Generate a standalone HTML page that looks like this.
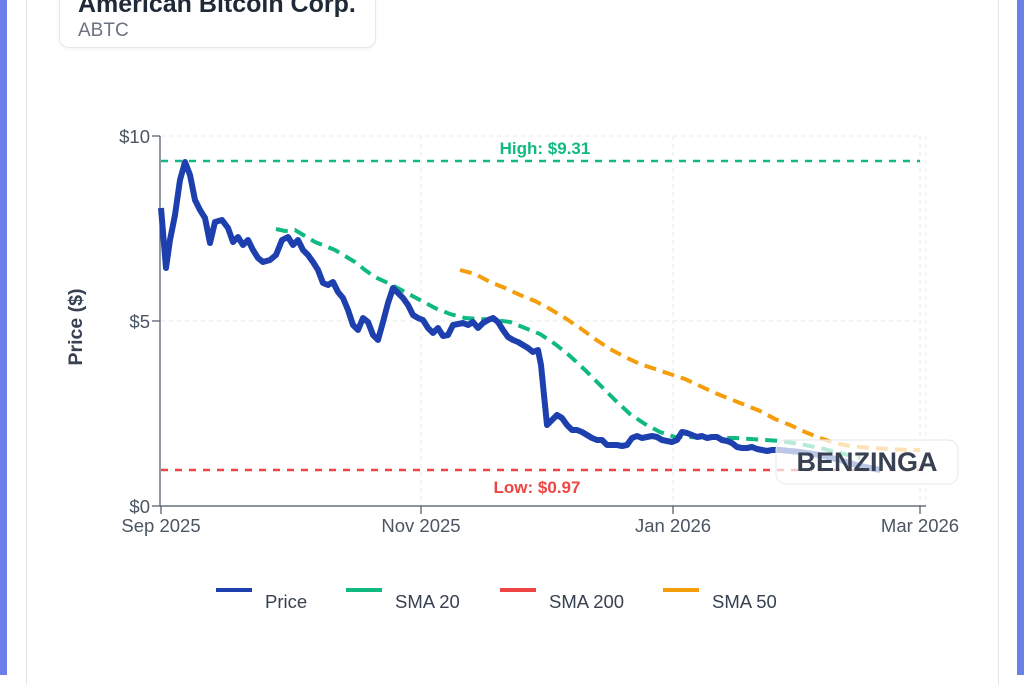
<!DOCTYPE html>
<html><head><meta charset="utf-8"><style>
body{margin:0;width:1024px;height:675px;overflow:hidden;background:#fff;font-family:"Liberation Sans",sans-serif;position:relative}
.sl{position:absolute;top:0;bottom:0;width:7px;background:#6b80e8}
.card{position:absolute;left:26px;right:25px;top:-10px;bottom:-10px;border-left:1px solid #e3e5ea;border-right:1px solid #e3e5ea}
.tb{position:absolute;left:59px;top:-20px;width:315px;height:66px;border:1px solid #e5e7eb;border-radius:10px;box-shadow:0 1px 3px rgba(0,0,0,.06)}
.t1{position:absolute;left:78px;top:-10px;font-weight:bold;font-size:25px;color:#1f2937}
.t2{position:absolute;left:78px;top:20px;font-size:19px;color:#6b7280}
</style></head><body>
<div class="sl" style="left:0"></div><div class="sl" style="right:0"></div>
<div class="card"></div>
<div class="tb"></div>
<div class="t1">American Bitcoin Corp.</div>
<div class="t2">ABTC</div>
<svg width="1024" height="675" style="position:absolute;left:0;top:0" font-family="Liberation Sans, sans-serif">
<g stroke="#e5e7eb" stroke-dasharray="4,4" fill="none">
<line x1="161" y1="136" x2="920" y2="136"/><line x1="161" y1="321" x2="920" y2="321"/>
<line x1="421" y1="136" x2="421" y2="506"/><line x1="673" y1="136" x2="673" y2="506"/><line x1="920" y1="136" x2="920" y2="506"/><line x1="926" y1="136" x2="926" y2="506"/>
</g>
<g stroke="#4b5563" stroke-width="1.2">
<line x1="160" y1="136" x2="160" y2="506"/><line x1="160" y1="506" x2="926" y2="506"/>
<line x1="152" y1="136" x2="160" y2="136"/><line x1="152" y1="321" x2="160" y2="321"/><line x1="152" y1="506" x2="160" y2="506"/>
<line x1="161" y1="506" x2="161" y2="514"/><line x1="421" y1="506" x2="421" y2="514"/><line x1="673" y1="506" x2="673" y2="514"/><line x1="920" y1="506" x2="920" y2="514"/>
</g>
<g fill="#4b5563" font-size="18.5">
<text x="150" y="143" text-anchor="end">$10</text><text x="150" y="328" text-anchor="end">$5</text><text x="150" y="513" text-anchor="end">$0</text>
<text x="161" y="532" text-anchor="middle">Sep 2025</text><text x="421" y="532" text-anchor="middle">Nov 2025</text><text x="673" y="532" text-anchor="middle">Jan 2026</text><text x="920" y="532" text-anchor="middle">Mar 2026</text>
</g>
<text transform="translate(82,327) rotate(-90)" text-anchor="middle" font-size="19.5" font-weight="bold" fill="#374151">Price ($)</text>
<line x1="161" y1="161" x2="920" y2="161" stroke="#10b981" stroke-width="2.5" stroke-dasharray="7,7"/>
<text x="545" y="154" text-anchor="middle" font-size="17" font-weight="bold" fill="#10b981">High: $9.31</text>
<line x1="161" y1="470" x2="920" y2="470" stroke="#ef4444" stroke-width="2.5" stroke-dasharray="7,7"/>
<text x="537" y="493" text-anchor="middle" font-size="17" font-weight="bold" fill="#ef4444">Low: $0.97</text>
<polyline fill="none" stroke="#f59e0b" stroke-width="4" stroke-dasharray="12,7" points="460,270 475,274 490,282 505,288 520,295 535,301 550,309 565,318 580,328 595,339 610,349 625,357 640,364 655,369 670,374 685,379 700,386 715,393 730,399 745,405 760,411 775,419 790,425 805,432 820,438 835,443 850,446 870,448 890,449 910,450 920,450"/>
<polyline fill="none" stroke="#10b981" stroke-width="4" stroke-dasharray="12,7" points="276,229 285,231 295,230 305,236 315,242 325,246 335,250 345,256 355,262 365,270 375,277 390,284 405,292 420,300 435,308 450,314 465,318 480,319 495,320 510,322 525,328 540,334 555,344 570,356 585,370 600,385 615,400 630,414 645,424 660,432 675,437 690,437 705,438 720,438 735,438 750,439 765,440 780,441 800,444 820,448 840,453 860,458"/>
<polyline fill="none" stroke="#1e40af" stroke-width="6" stroke-linejoin="round" points="161,208 166,268 170,240 175,215 180,180 185,162 190,175 195,200 200,210 205,218 210,243 215,222 222,220 228,228 233,242 238,237 243,245 248,240 253,250 258,258 263,262 270,260 276,255 282,240 288,237 293,245 298,240 303,250 308,255 313,262 318,270 323,283 328,285 333,282 338,292 343,298 348,310 353,325 358,330 363,318 368,322 373,335 378,340 383,322 388,303 393,288 398,293 403,298 408,305 413,315 418,318 423,320 428,328 433,333 438,328 443,336 448,335 453,325 458,324 463,323 468,325 473,322 478,328 483,323 488,320 493,318 498,322 503,330 508,337 513,340 518,342 523,345 528,348 533,352 538,350 541,365 544,395 547,425 552,420 557,415 562,418 567,425 572,430 577,430 582,432 587,435 592,438 597,440 602,440 607,445 612,445 617,445 622,446 627,445 632,438 637,436 642,438 647,437 652,436 657,437 662,440 667,441 672,442 677,440 682,432 687,433 692,435 697,437 702,436 707,438 712,437 717,437 722,440 727,441 732,443 737,447 742,448 747,448 752,447 757,449 762,450 767,451 772,450 780,450 800,452 820,455 840,460 860,466 880,470"/>
<rect x="776" y="440" width="182" height="44" rx="10" fill="#fff" fill-opacity="0.7" stroke="#e5e7eb"/>
<text x="867" y="471" text-anchor="middle" font-size="27" font-weight="bold" fill="#374151">BENZINGA</text>
<g font-size="18.5" fill="#374151">
<line x1="216" y1="590" x2="252" y2="590" stroke="#1e40af" stroke-width="4"/><text x="265" y="608">Price</text>
<line x1="346" y1="590" x2="382" y2="590" stroke="#10b981" stroke-width="4"/><text x="395" y="608">SMA 20</text>
<line x1="500" y1="590" x2="536" y2="590" stroke="#ef4444" stroke-width="4"/><text x="549" y="608">SMA 200</text>
<line x1="663" y1="590" x2="699" y2="590" stroke="#f59e0b" stroke-width="4"/><text x="712" y="608">SMA 50</text>
</g>
</svg>
</body></html>
